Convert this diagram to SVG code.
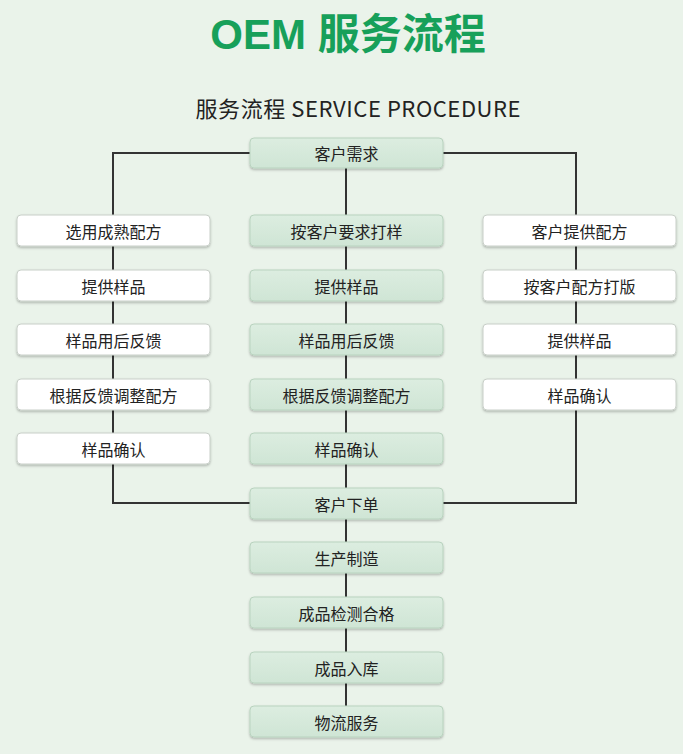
<svg xmlns="http://www.w3.org/2000/svg" width="683" height="754" viewBox="0 0 683 754">
<defs>
<linearGradient id="g" x1="0" y1="0" x2="0" y2="1">
<stop offset="0" stop-color="#dcede0"/>
<stop offset="1" stop-color="#cfe5d5"/>
</linearGradient>
<filter id="sh" x="-5%" y="-20%" width="110%" height="150%">
<feDropShadow dx="0" dy="1.5" stdDeviation="1" flood-color="#000" flood-opacity="0.25"/>
</filter>
<style>
.c rect{fill:url(#g);stroke:#b9d3bf;stroke-width:1;filter:url(#sh)}
.w rect{fill:#ffffff;stroke:#c8cfc8;stroke-width:1;filter:url(#sh)}
text{font-family:"Noto Sans CJK SC","Noto Sans",sans-serif;}
.n text{font-size:16px;fill:#222;text-anchor:middle;dominant-baseline:central}
#conn path{fill:none;stroke:#333;stroke-width:2}
</style>
</defs>
<rect width="683" height="754" fill="#eaf3ea"/>
<text x="348" y="49" font-size="42" font-weight="bold" fill="#17a05a" text-anchor="middle" style="font-family:'Liberation Sans','Noto Sans CJK SC',sans-serif">OEM 服务流程</text>
<text x="358" y="117" font-size="22" fill="#222" text-anchor="middle" textLength="325">服务流程 SERVICE PROCEDURE</text>
<g id="conn">
<path d="M250 153 H113 V503 H250"/>
<path d="M443 153 H576 V503 H443"/>
<path d="M346 168 V706"/>
</g>
<g id="n1" class="n c"><rect x="250" y="138" width="193" height="30" rx="4"/><text x="346.5" y="153">客户需求</text></g>
<g id="l1" class="n w"><rect x="17" y="215" width="193" height="31" rx="4"/><text x="113.5" y="230.5">选用成熟配方</text></g>
<g id="l2" class="n w"><rect x="17" y="270" width="193" height="31" rx="4"/><text x="113.5" y="285.5">提供样品</text></g>
<g id="l3" class="n w"><rect x="17" y="324" width="193" height="31" rx="4"/><text x="113.5" y="339.5">样品用后反馈</text></g>
<g id="l4" class="n w"><rect x="17" y="379" width="193" height="31" rx="4"/><text x="113.5" y="394.5">根据反馈调整配方</text></g>
<g id="l5" class="n w"><rect x="17" y="433" width="193" height="31" rx="4"/><text x="113.5" y="448.5">样品确认</text></g>
<g id="c1" class="n c"><rect x="250" y="215" width="193" height="31" rx="4"/><text x="346.5" y="230.5">按客户要求打样</text></g>
<g id="c2" class="n c"><rect x="250" y="270" width="193" height="31" rx="4"/><text x="346.5" y="285.5">提供样品</text></g>
<g id="c3" class="n c"><rect x="250" y="324" width="193" height="31" rx="4"/><text x="346.5" y="339.5">样品用后反馈</text></g>
<g id="c4" class="n c"><rect x="250" y="379" width="193" height="31" rx="4"/><text x="346.5" y="394.5">根据反馈调整配方</text></g>
<g id="c5" class="n c"><rect x="250" y="433" width="193" height="31" rx="4"/><text x="346.5" y="448.5">样品确认</text></g>
<g id="r1" class="n w"><rect x="483" y="215" width="193" height="31" rx="4"/><text x="579.5" y="230.5">客户提供配方</text></g>
<g id="r2" class="n w"><rect x="483" y="270" width="193" height="31" rx="4"/><text x="579.5" y="285.5">按客户配方打版</text></g>
<g id="r3" class="n w"><rect x="483" y="324" width="193" height="31" rx="4"/><text x="579.5" y="339.5">提供样品</text></g>
<g id="r4" class="n w"><rect x="483" y="379" width="193" height="31" rx="4"/><text x="579.5" y="394.5">样品确认</text></g>
<g id="o1" class="n c"><rect x="250" y="488" width="193" height="31" rx="4"/><text x="346.5" y="503.5">客户下单</text></g>
<g id="o2" class="n c"><rect x="250" y="542" width="193" height="31" rx="4"/><text x="346.5" y="557.5">生产制造</text></g>
<g id="o3" class="n c"><rect x="250" y="597" width="193" height="31" rx="4"/><text x="346.5" y="612.5">成品检测合格</text></g>
<g id="o4" class="n c"><rect x="250" y="652" width="193" height="31" rx="4"/><text x="346.5" y="667.5">成品入库</text></g>
<g id="o5" class="n c"><rect x="250" y="706" width="193" height="31" rx="4"/><text x="346.5" y="721.5">物流服务</text></g>
</svg>
